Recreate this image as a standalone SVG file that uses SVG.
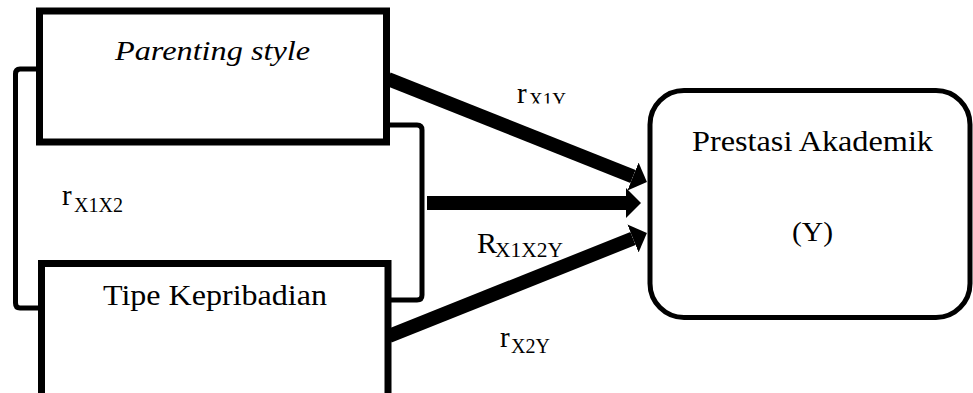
<svg xmlns="http://www.w3.org/2000/svg" width="973" height="393" viewBox="0 0 973 393">
<style>
.box{fill:#fff;stroke:#000;stroke-width:7}
text{font-family:'Liberation Serif','Times New Roman',serif;fill:#000}
.br{fill:none;stroke:#000;stroke-width:5;stroke-linejoin:round}
.ar{stroke:#000;stroke-width:14;fill:none}
</style>
<defs>
<marker id="head" markerUnits="userSpaceOnUse" markerWidth="16" markerHeight="32" viewBox="0 -16 16 32" refX="0" refY="0" orient="auto">
<path d="M0,-15 L15,0 L0,15 Z" fill="#000"/>
</marker>
<clipPath id="clipX1Y"><rect x="500" y="60" width="100" height="43.5"/></clipPath>
</defs>
<g id="connectors">
<path class="br" d="M36,69 H20 Q15.5,69 15.5,74 V303 Q15.5,308 20,308 H40"/>
<path class="br" d="M389,125 H417 Q422,125 422,130 V295 Q422,300 417,300 H389"/>
<line class="ar" x1="388" y1="79" x2="633" y2="176.5" marker-end="url(#head)"/>
<line class="ar" x1="427" y1="203" x2="626" y2="203" marker-end="url(#head)"/>
<line class="ar" x1="389" y1="336" x2="633" y2="238.5" marker-end="url(#head)"/>
</g>
<g id="node-x1">
<rect class="box" x="39.5" y="11" width="347" height="131"/>
<text x="115" y="60" font-size="28" font-style="italic" textLength="195" lengthAdjust="spacingAndGlyphs">Parenting style</text>
</g>
<g id="node-x2">
<rect class="box" x="41.5" y="263.5" width="346.5" height="150"/>
<text x="103" y="305" font-size="29.5" textLength="224" lengthAdjust="spacingAndGlyphs">Tipe Kepribadian</text>
</g>
<g id="node-y">
<rect x="650" y="90.5" width="320" height="227" rx="34" fill="#fff" stroke="#000" stroke-width="5"/>
<text x="692" y="151" font-size="30" textLength="241" lengthAdjust="spacingAndGlyphs">Prestasi Akademik</text>
<text x="792" y="241" font-size="28" textLength="41" lengthAdjust="spacingAndGlyphs">(Y)</text>
</g>
<g id="labels">
<text font-size="29"><tspan x="62" y="205">r</tspan><tspan x="74" y="212" font-size="21" textLength="49" lengthAdjust="spacingAndGlyphs">X1X2</tspan></text>
<text font-size="29" clip-path="url(#clipX1Y)"><tspan x="517" y="103">r</tspan><tspan x="529" y="107" font-size="21" textLength="37" lengthAdjust="spacingAndGlyphs">X1Y</tspan></text>
<text font-size="30"><tspan x="477" y="253">R</tspan><tspan x="495" y="257" font-size="21" textLength="68" lengthAdjust="spacingAndGlyphs">X1X2Y</tspan></text>
<text font-size="29"><tspan x="500" y="347">r</tspan><tspan x="511" y="353" font-size="21" textLength="39" lengthAdjust="spacingAndGlyphs">X2Y</tspan></text>
</g>
</svg>
